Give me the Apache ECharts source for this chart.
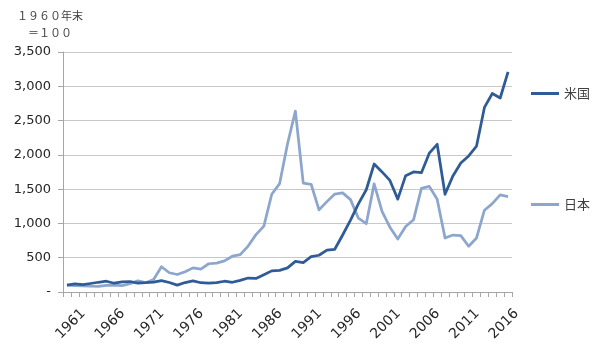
<!DOCTYPE html>
<html>
<head>
<meta charset="utf-8">
<script src="https://cdn.jsdelivr.net/npm/echarts@6/dist/echarts.min.js"></script>
<style>
  html, body { margin: 0; padding: 0; background: #fff; }
  #chart { width: 600px; height: 348px; }
</style>
</head>
<body>
<div id="chart"></div>
<script>
// Year-end values, 1960 year-end = 100
const years = [
  '1960','1961','1962','1963','1964','1965','1966','1967','1968','1969',
  '1970','1971','1972','1973','1974','1975','1976','1977','1978','1979',
  '1980','1981','1982','1983','1984','1985','1986','1987','1988','1989',
  '1990','1991','1992','1993','1994','1995','1996','1997','1998','1999',
  '2000','2001','2002','2003','2004','2005','2006','2007','2008','2009',
  '2010','2011','2012','2013','2014','2015','2016'
];

const usValues = [
  100, 119, 106, 124, 142, 157, 128, 147, 153, 130,
  136, 145, 166, 138, 100, 138, 163, 135, 131, 136,
  157, 142, 170, 204, 197, 251, 308, 315, 352, 447,
  428, 515, 536, 610, 623, 831, 1047, 1284, 1491, 1867,
  1751, 1627, 1354, 1697, 1751, 1740, 2024, 2154, 1425, 1693,
  1880, 1984, 2128, 2692, 2894, 2829, 3209
];

const japanValues = [
  100, 93, 91, 85, 83, 97, 102, 92, 120, 164,
  136, 183, 368, 281, 255, 296, 352, 334, 412, 421,
  453, 522, 544, 670, 837, 961, 1426, 1581, 2159, 2639,
  1588, 1571, 1198, 1318, 1428, 1445, 1347, 1076, 996, 1577,
  1176, 945, 772, 956, 1053, 1511, 1540, 1352, 787, 831,
  823, 667, 788, 1193, 1289, 1417, 1391
];

const seriesNames = ['米国', '日本'];
const unitLines = ['１９６０年末', '＝１００'];

const US_COLOR = '#2f5b96';
const JP_COLOR = '#8ca6cd';
const AXIS_COLOR = '#a6a6a6';
const GRID_COLOR = '#c8c8c8';
const TEXT_COLOR = '#262626';

const chart = echarts.init(document.getElementById('chart'), null, { renderer: 'canvas' });

const legendBase = {
  orient: 'vertical',
  left: 531,
  padding: 0,
  icon: 'rect',
  itemWidth: 28,
  itemHeight: 3,
  itemGap: 0,
  textStyle: { fontFamily: 'Noto Sans CJK JP', fontSize: 13, color: '#404040' },
  selectedMode: false
};

chart.setOption({
  animation: false,
  backgroundColor: '#ffffff',
  grid: { left: 63, right: 88, top: 52, bottom: 56, containLabel: false },
  graphic: [
    {
      type: 'text', left: 17, top: 10,
      style: { text: unitLines[0], fontFamily: 'Noto Sans CJK JP', fontSize: 11, fill: '#404040' }
    },
    {
      type: 'text', left: 28, top: 27,
      style: { text: unitLines[1], fontFamily: 'Noto Sans CJK JP', fontSize: 11, fill: '#404040' }
    }
  ],
  legend: [
    Object.assign({}, legendBase, { top: 87, data: [seriesNames[0]] }),
    Object.assign({}, legendBase, { top: 198, data: [seriesNames[1]] })
  ],
  xAxis: {
    type: 'category',
    data: years,
    boundaryGap: true,
    axisLine: { show: true, lineStyle: { color: AXIS_COLOR, width: 1 } },
    axisTick: { show: true, interval: 0, length: 5, lineStyle: { color: AXIS_COLOR } },
    axisLabel: {
      interval: (idx) => (idx - 1) % 5 === 0,
      rotate: 45,
      margin: 11,
      verticalAlign: 'top',
      padding: [5, 0, 0, 0],
      fontFamily: 'DejaVu Sans',
      fontSize: 14,
      color: TEXT_COLOR
    },
    splitLine: { show: false }
  },
  yAxis: {
    type: 'value',
    min: 0,
    max: 3500,
    interval: 500,
    axisLine: { show: true, lineStyle: { color: AXIS_COLOR, width: 1 } },
    axisTick: { show: true, length: 5, lineStyle: { color: AXIS_COLOR } },
    axisLabel: {
      margin: 12,
      fontFamily: 'DejaVu Sans',
      fontSize: 13,
      color: TEXT_COLOR,
      formatter: (v) => v === 0 ? '-' : v.toLocaleString('en-US')
    },
    splitLine: { show: true, lineStyle: { color: GRID_COLOR, width: 1 } }
  },
  series: [
    {
      name: seriesNames[0],
      type: 'line',
      data: usValues,
      symbol: 'none',
      color: US_COLOR,
      lineStyle: { color: US_COLOR, width: 2.75, join: 'round' },
      z: 3
    },
    {
      name: seriesNames[1],
      type: 'line',
      data: japanValues,
      symbol: 'none',
      color: JP_COLOR,
      lineStyle: { color: JP_COLOR, width: 2.75, join: 'round' },
      z: 2
    }
  ]
});
</script>
</body>
</html>
